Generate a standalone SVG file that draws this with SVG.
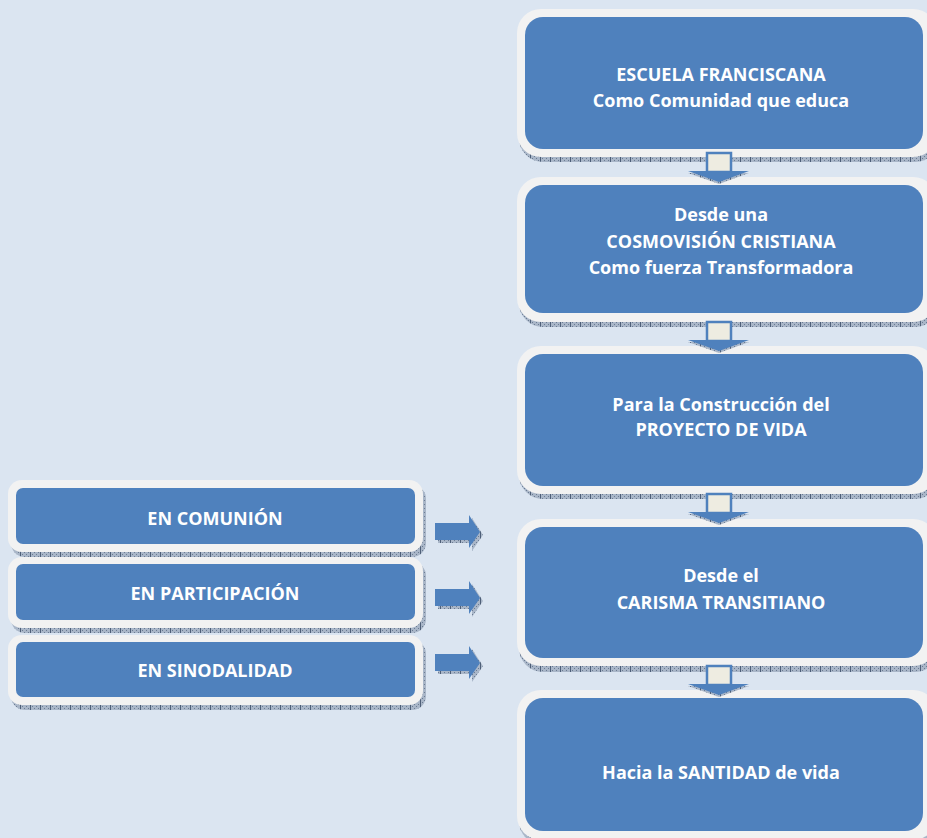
<svg xmlns="http://www.w3.org/2000/svg" width="927" height="838" viewBox="0 0 927 838">
<defs>
  <pattern id="hatch" width="10" height="4" patternUnits="userSpaceOnUse">
    <rect width="10" height="4" fill="#A9B6C8"/>
    <path d="M0 0h1v1h-1zM2 2h1v1h-1zM4 0h1v1h-1zM6 2h1v1h-1zM8 0h1v1h-1z" fill="#6B7C93"/>
    <rect x="0" y="0" width="1" height="4" fill="#4E5F78"/>
  </pattern>
  <style>
    .ring{fill:#F2F2F2}
    .core{fill:#4F81BD}
    .shadow{fill:url(#hatch)}
    .t{font-family:"Open Sans","Liberation Sans",sans-serif;font-weight:bold;font-size:18px;fill:#FFFFFF;text-anchor:middle}
    .shaft{fill:#EEECE1;stroke:#4F81BD;stroke-width:2.5}
    .head{fill:#4F81BD}
  </style>
</defs>
<rect width="927" height="838" fill="#DBE5F1"/>

<g id="n1">
  <rect class="shadow" x="519" y="14" width="420" height="148" rx="24"/>
  <rect class="ring" x="517" y="9" width="420" height="148" rx="24"/>
  <rect class="core" x="525" y="17" width="398" height="132" rx="18"/>
  <text class="t" x="721" y="81">ESCUELA FRANCISCANA</text>
  <text class="t" x="721" y="107">Como Comunidad que educa</text>
</g>
<g id="n2">
  <rect class="shadow" x="519" y="182" width="420" height="145" rx="24"/>
  <rect class="ring" x="517" y="177" width="420" height="145" rx="24"/>
  <rect class="core" x="525" y="185" width="398" height="128" rx="18"/>
  <text class="t" x="721" y="221">Desde una</text>
  <text class="t" x="721" y="248">COSMOVISIÓN CRISTIANA</text>
  <text class="t" x="721" y="274">Como fuerza Transformadora</text>
</g>
<g id="n3">
  <rect class="shadow" x="519" y="351" width="420" height="148" rx="24"/>
  <rect class="ring" x="517" y="346" width="420" height="148" rx="24"/>
  <rect class="core" x="525" y="354" width="398" height="132" rx="18"/>
  <text class="t" x="721" y="411">Para la Construcción del</text>
  <text class="t" x="721" y="436">PROYECTO DE VIDA</text>
</g>
<g id="n4">
  <rect class="shadow" x="519" y="524" width="420" height="148" rx="24"/>
  <rect class="ring" x="517" y="519" width="420" height="147" rx="24"/>
  <rect class="core" x="525" y="527" width="398" height="131" rx="18"/>
  <text class="t" x="721" y="582">Desde el</text>
  <text class="t" x="721" y="609">CARISMA TRANSITIANO</text>
</g>
<g id="n5">
  <rect class="shadow" x="519" y="695" width="420" height="150" rx="24"/>
  <rect class="ring" x="517" y="690" width="420" height="150" rx="24"/>
  <rect class="core" x="525" y="698" width="398" height="133" rx="18"/>
  <text class="t" x="721" y="779">Hacia la SANTIDAD de vida</text>
</g>

<g id="l1">
  <rect class="shadow" x="11" y="485" width="415" height="72" rx="14"/>
  <rect class="ring" x="8" y="480" width="415" height="72" rx="14"/>
  <rect class="core" x="16" y="488" width="399" height="56" rx="7"/>
  <text class="t" x="215" y="525">EN COMUNIÓN</text>
</g>
<g id="l2">
  <rect class="shadow" x="11" y="562" width="415" height="71" rx="14"/>
  <rect class="ring" x="8" y="557" width="415" height="71" rx="14"/>
  <rect class="core" x="16" y="564" width="399" height="56" rx="7"/>
  <text class="t" x="215" y="600">EN PARTICIPACIÓN</text>
</g>
<g id="l3">
  <rect class="shadow" x="11" y="640" width="415" height="70" rx="14"/>
  <rect class="ring" x="8" y="635" width="415" height="70" rx="14"/>
  <rect class="core" x="16" y="642" width="399" height="55" rx="7"/>
  <text class="t" x="215" y="677">EN SINODALIDAD</text>
</g>

<g id="connectors">
  <g id="d1">
    <rect class="shaft" x="707" y="153" width="24" height="19"/>
    <polygon points="688,171 749,171 719,182" fill="url(#hatch)" transform="translate(0,2)"/>
    <polygon class="head" points="688,171 749,171 719,182"/>
  </g>
  <g id="d2">
    <rect class="shaft" x="707" y="322" width="24" height="19"/>
    <polygon points="688,340 749,340 719,351" fill="url(#hatch)" transform="translate(0,2)"/>
    <polygon class="head" points="688,340 749,340 719,351"/>
  </g>
  <g id="d3">
    <rect class="shaft" x="707" y="494" width="24" height="19"/>
    <polygon points="688,512 749,512 719,523" fill="url(#hatch)" transform="translate(0,2)"/>
    <polygon class="head" points="688,512 749,512 719,523"/>
  </g>
  <g id="d4">
    <rect class="shaft" x="707" y="666" width="24" height="19"/>
    <polygon points="688,684 749,684 719,695" fill="url(#hatch)" transform="translate(0,2)"/>
    <polygon class="head" points="688,684 749,684 719,695"/>
  </g>
  <g id="r1">
    <polygon points="438,526 472,526 472,518 483,535 472,551 472,543 438,543" fill="url(#hatch)"/>
    <polygon class="head" points="435,523 469,523 469,515 480,532 469,548 469,540 435,540"/>
  </g>
  <g id="r2">
    <polygon points="438,592 472,592 472,584 483,601 472,617 472,609 438,609" fill="url(#hatch)"/>
    <polygon class="head" points="435,589 469,589 469,581 480,598 469,614 469,606 435,606"/>
  </g>
  <g id="r3">
    <polygon points="438,657 472,657 472,649 483,666 472,682 472,674 438,674" fill="url(#hatch)"/>
    <polygon class="head" points="435,654 469,654 469,646 480,663 469,679 469,671 435,671"/>
  </g>
</g>
</svg>
